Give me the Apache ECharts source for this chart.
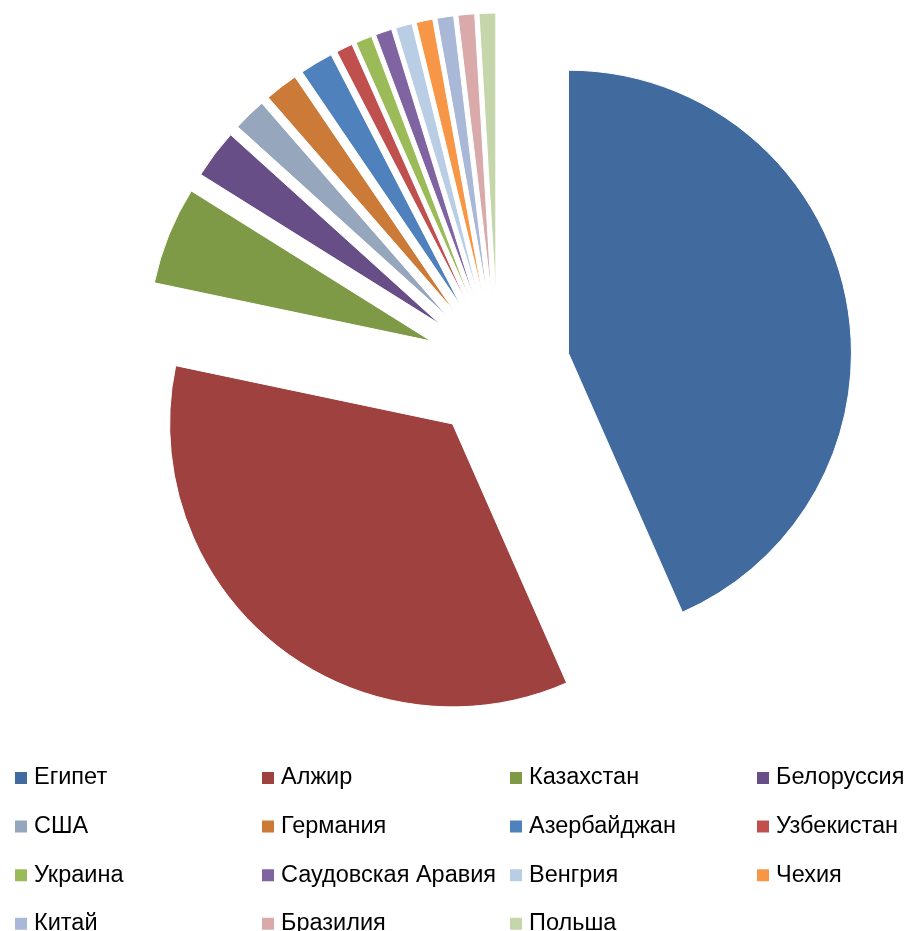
<!DOCTYPE html>
<html>
<head>
<meta charset="utf-8">
<script src="https://cdn.jsdelivr.net/npm/echarts@6/dist/echarts.min.js"></script>
<style>
html,body{margin:0;padding:0;background:#fff;}
#chart{width:910px;height:931px;}
</style>
</head>
<body>
<div id="chart"></div>
<script>
const categories = ['Египет','Алжир','Казахстан','Белоруссия','США','Германия','Азербайджан','Узбекистан','Украина','Саудовская Аравия','Венгрия','Чехия','Китай','Бразилия','Польша'];
const values = [43.4, 34.9, 5.6, 2.8, 1.9, 1.9, 1.9, 0.95, 0.95, 0.95, 0.95, 0.95, 0.95, 0.95, 0.95];
const colors = ['#416A9E','#9F413E','#7E9A47','#684E86','#95A6BD','#CB7A37','#4F81BD','#C0504D','#9BBB59','#8064A2','#B9CDE5','#F79646','#A9B8D6','#D9AAA9','#C5D6AB'];

const chart = echarts.init(document.getElementById('chart'));
const data = categories.map((n, i) => ({name: n, value: values[i], selected: true, itemStyle: {color: colors[i]}}));

const colLefts = [13, 260, 508, 755];
const legends = colLefts.map((left, c) => ({
  orient: 'vertical',
  left: left,
  top: 766,
  height: 230,
  width: 160,
  padding: 0,
  itemWidth: 14,
  itemHeight: 14,
  itemGap: 24.6,
  icon: 'rect',
  selectedMode: false,
  data: categories.filter((_, i) => i % 4 === c),
  textStyle: {fontFamily: 'Liberation Sans', fontSize: 23.5, color: '#000', lineHeight: 20, padding: [0,0,0,1]}
}));

chart.setOption({
  animation: false,
  color: colors,
  legend: legends,
  series: [{
    type: 'pie',
    center: [498, 368],
    radius: 283,
    startAngle: 90,
    clockwise: true,
    selectedMode: 'multiple',
    selectedOffset: 72,
    avoidLabelOverlap: false,
    label: {show: false},
    labelLine: {show: false},
    emphasis: {disabled: true},
    select: {itemStyle: {borderColor: '#fff', borderWidth: 1}},
    itemStyle: {borderColor: '#fff', borderWidth: 1},
    data: data
  }]
});
</script>
</body>
</html>
